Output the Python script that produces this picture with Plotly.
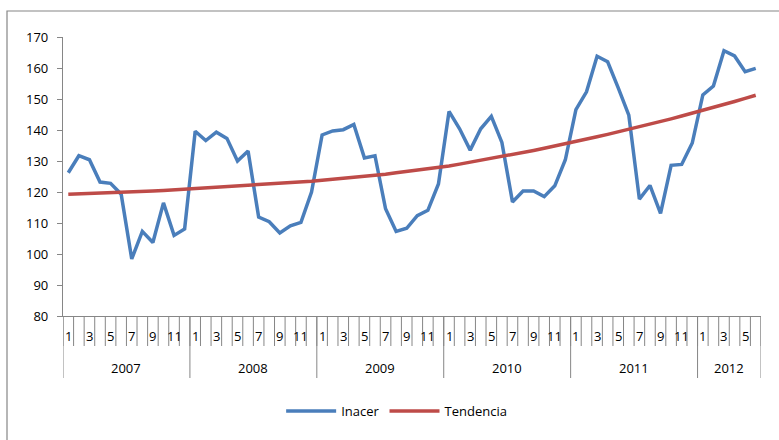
import plotly.graph_objects as go

years = ["2007", "2008", "2009", "2010", "2011", "2012"]
months_per_year = [12, 12, 12, 12, 12, 6]
month_tick_labels = ["1", "3", "5", "7", "9", "11"]

inacer = [
    126.2, 131.7, 130.4, 123.2, 122.8, 119.3, 98.4, 107.3, 103.7, 116.5, 106.0, 108.1,
    139.6, 136.6, 139.3, 137.3, 130.0, 133.2, 111.9, 110.4, 106.8, 109.1, 110.2, 120.0,
    138.4, 139.7, 140.1, 141.8, 131.0, 131.7, 114.6, 107.3, 108.3, 112.4, 114.1, 122.6,
    146.0, 140.4, 133.5, 140.4, 144.4, 136.0, 116.8, 120.3, 120.3, 118.5, 122.0, 130.4,
    146.6, 152.3, 163.8, 162.0, 153.6, 144.8, 117.7, 122.1, 113.1, 128.6, 128.9, 135.8,
    151.3, 154.2, 165.6, 163.9, 158.8, 159.9,
]
tendencia = [
    119.3, 119.4, 119.6, 119.7, 119.8, 120.0, 120.1, 120.2, 120.3, 120.5, 120.7, 120.9,
    121.1, 121.3, 121.5, 121.7, 121.9, 122.1, 122.3, 122.5, 122.8, 123.0, 123.3, 123.5,
    123.8, 124.1, 124.5, 124.8, 125.1, 125.4, 125.7, 126.2, 126.6, 127.1, 127.5, 128.0,
    128.4, 129.0, 129.6, 130.2, 130.8, 131.4, 132.0, 132.7, 133.4, 134.1, 134.8, 135.5,
    136.2, 137.0, 137.8, 138.6, 139.4, 140.2, 141.0, 141.9, 142.8, 143.6, 144.5, 145.4,
    146.3, 147.3, 148.2, 149.2, 150.2, 151.2,
]
y_ticks = [80, 90, 100, 110, 120, 130, 140, 150, 160, 170]

FONT = "Open Sans"
AXIS_COLOR = "#868686"
W, H = 779, 440
ML, MR, MT, MB = 63, 18, 37, 124
PH = H - MT - MB

def py(px_from_top):
    # convert pixel y (from top of page) into paper coordinate
    return (H - MB - px_from_top) / PH

n = len(inacer)
xs = list(range(n))

fig = go.Figure()
fig.add_trace(go.Scatter(x=xs, y=inacer, mode="lines", name="Inacer",
                         line=dict(color="#4A7EBB", width=3.5)))
fig.add_trace(go.Scatter(x=xs, y=tendencia, mode="lines", name="Tendencia",
                         line=dict(color="#BE4B48", width=3.5)))

shapes = []
annotations = []
# month boundary ticks
for b in range(n + 1):
    shapes.append(dict(type="line", xref="x", yref="paper", x0=b - 0.5, x1=b - 0.5,
                       y0=0, y1=py(346), line=dict(color=AXIS_COLOR, width=1)))
# year separators, labels and month labels
start = 0
for yr, cnt in zip(years, months_per_year):
    shapes.append(dict(type="line", xref="x", yref="paper", x0=start - 0.5, x1=start - 0.5,
                       y0=0, y1=py(378), line=dict(color=AXIS_COLOR, width=1)))
    annotations.append(dict(x=start + (cnt - 1) / 2, y=py(368), xref="x", yref="paper",
                            text=yr, showarrow=False, yanchor="middle",
                            font=dict(family=FONT, size=13, color="black")))
    for m in range(cnt):
        lab = str(m + 1)
        if lab in month_tick_labels:
            annotations.append(dict(x=start + m, y=py(336), xref="x", yref="paper",
                                    text=lab, showarrow=False, yanchor="middle",
                                    font=dict(family=FONT, size=13, color="black")))
    start += cnt
shapes.append(dict(type="line", xref="x", yref="paper", x0=n - 0.5, x1=n - 0.5,
                   y0=0, y1=py(378), line=dict(color=AXIS_COLOR, width=1)))
# outer chart border (extends beyond visible area on right/bottom)
shapes.append(dict(type="rect", xref="paper", yref="paper",
                   x0=(7 - ML) / (W - ML - MR), x1=1.2, y0=-0.6, y1=py(11),
                   line=dict(color=AXIS_COLOR, width=1.2), fillcolor="rgba(0,0,0,0)"))

fig.update_layout(
    width=W, height=H,
    margin=dict(l=ML, r=MR, t=MT, b=MB),
    paper_bgcolor="white", plot_bgcolor="white",
    font=dict(family=FONT, size=13, color="black"),
    showlegend=True,
    legend=dict(orientation="h", x=0.478, xanchor="center", y=py(411), yanchor="middle",
                font=dict(family=FONT, size=13, color="black"), itemwidth=50),
    xaxis=dict(range=[-0.5, n - 0.5], showticklabels=False, ticks="", showgrid=False,
               zeroline=False, showline=True, linecolor=AXIS_COLOR, linewidth=1.2),
    yaxis=dict(range=[80, 170], tickvals=y_ticks, ticks="outside", ticklen=5,
               tickcolor=AXIS_COLOR, showgrid=False, zeroline=False, showline=True,
               linecolor=AXIS_COLOR, linewidth=1.2, ticklabelstandoff=6,
               tickfont=dict(family=FONT, size=13, color="black")),
    shapes=shapes,
    annotations=annotations,
)

fig.write_html("out.html", config={"displayModeBar": False},
               post_script="document.body.style.margin='0';document.body.style.overflow='hidden';")
